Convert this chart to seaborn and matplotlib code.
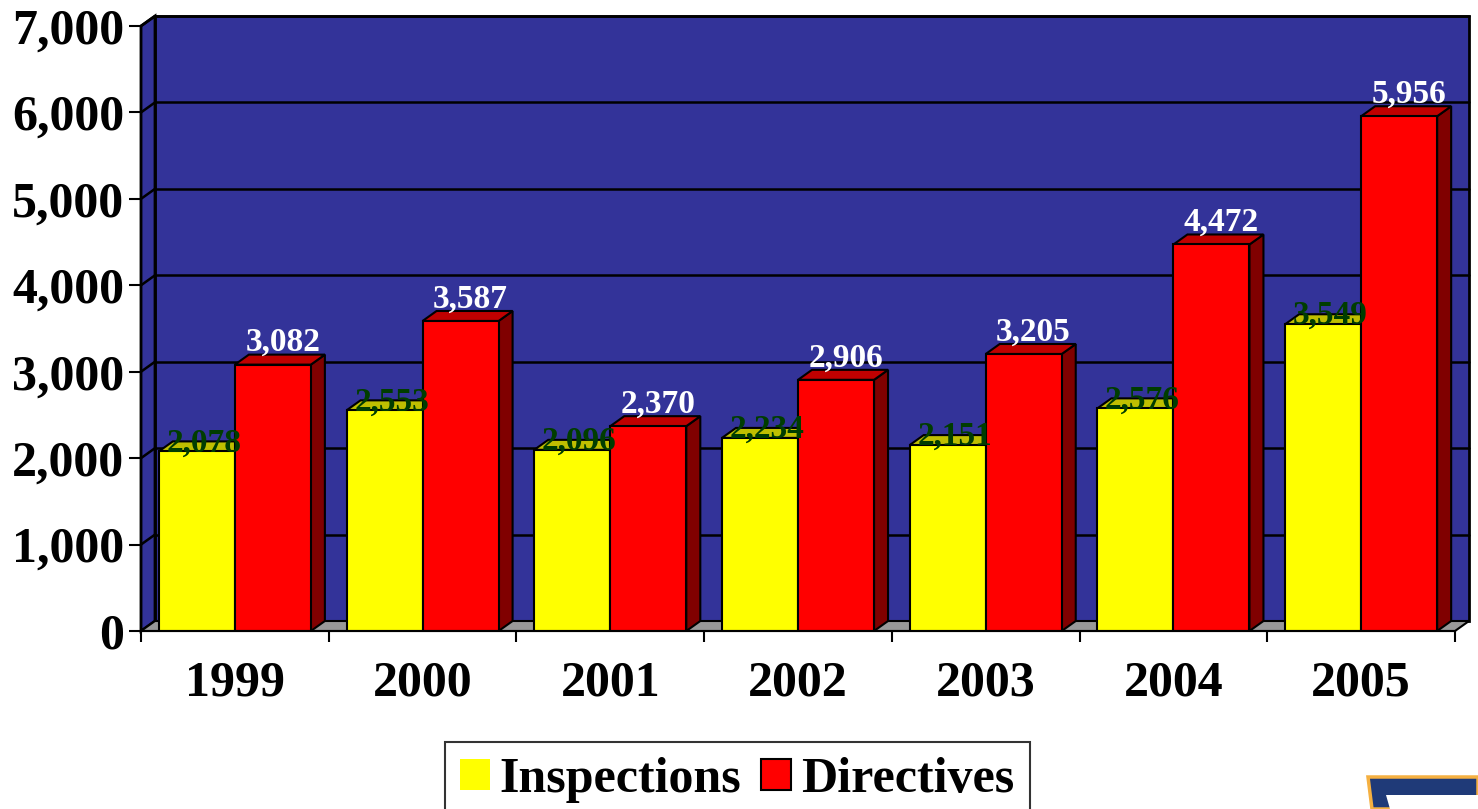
import matplotlib
matplotlib.use("Agg")
import matplotlib.pyplot as plt
import seaborn as sns
import pandas as pd
from matplotlib.patches import Polygon, Rectangle

years = ["1999", "2000", "2001", "2002", "2003", "2004", "2005"]
inspections = [2078, 2553, 2096, 2234, 2151, 2576, 3549]
directives = [3082, 3587, 2370, 2906, 3205, 4472, 5956]
series_names = ["Inspections", "Directives"]
y_ticks = [0, 1000, 2000, 3000, 4000, 5000, 6000, 7000]

df = pd.DataFrame({
    "year": years * 2,
    "value": inspections + directives,
    "series": [series_names[0]] * len(years) + [series_names[1]] * len(years),
})

sns.set_theme(style="white")
plt.rcParams["font.family"] = ["Liberation Serif", "DejaVu Serif"]
plt.rcParams["font.weight"] = "bold"
plt.rcParams["text.color"] = "black"

W, H = 1478, 809
fig = plt.figure(figsize=(W / 100, H / 100), dpi=100)
fig.patch.set_facecolor("white")
ax = fig.add_axes([141 / W, 1 - 631 / H, (1455 - 141) / W, (631 - 26) / H])
ax.set_facecolor("none")

front_colors = {"Inspections": "#FFFF00", "Directives": "#FF0000"}
top_colors = {"Inspections": "#BFBF00", "Directives": "#C00000"}
side_colors = {"Inspections": "#808000", "Directives": "#800000"}
label_colors = {"Inspections": "#003D00", "Directives": "#FFFFFF"}

sns.barplot(data=df, x="year", y="value", hue="series", hue_order=series_names,
            palette=front_colors, width=0.81, gap=0, edgecolor="black",
            linewidth=1.5, legend=False, ax=ax, zorder=3, saturation=1)

xmin, xmax = -0.5, len(years) - 0.5
ymax = 7000
ax.set_xlim(xmin, xmax)
ax.set_ylim(0, ymax)

# depth offsets in data units
dx = 14 / ((1455 - 141) / len(years))
dy = 10 / ((631 - 26) / ymax)

wall_blue = "#333399"
# back wall
ax.add_patch(Rectangle((xmin + dx, dy), xmax - xmin, ymax, facecolor=wall_blue,
                       edgecolor="black", lw=2, zorder=0.5, clip_on=False))
# left wall
ax.add_patch(Polygon([(xmin, 0), (xmin + dx, dy), (xmin + dx, ymax + dy), (xmin, ymax)],
                     closed=True, facecolor=wall_blue, edgecolor="black", lw=2,
                     zorder=0.5, clip_on=False))
# floor
ax.add_patch(Polygon([(xmin, 0), (xmax, 0), (xmax + dx, dy), (xmin + dx, dy)],
                     closed=True, facecolor="#999999", edgecolor="black", lw=1.5,
                     zorder=0.6, clip_on=False))
# gridlines
for v in y_ticks[1:]:
    ax.plot([xmin + dx, xmax + dx], [v + dy, v + dy], color="black", lw=1.8,
            zorder=0.7, clip_on=False)
    ax.plot([xmin, xmin + dx], [v, v + dy], color="black", lw=1.8,
            zorder=0.7, clip_on=False)

# 3D faces and labels
bars = [b for b in ax.patches if isinstance(b, Rectangle) and b.get_zorder() == 3
        and b.get_width() < 1 and b.get_height() > 0]
n = len(years)
for i, b in enumerate(bars):
    s = series_names[i // n]
    x0 = b.get_x()
    w = b.get_width()
    h = b.get_height()
    top = Polygon([(x0, h), (x0 + w, h), (x0 + w + dx, h + dy), (x0 + dx, h + dy)],
                  closed=True, facecolor=top_colors[s], edgecolor="black", lw=1.5, zorder=2)
    side = Polygon([(x0 + w, 0), (x0 + w + dx, dy), (x0 + w + dx, h + dy), (x0 + w, h)],
                   closed=True, facecolor=side_colors[s], edgecolor="black", lw=1.5, zorder=2)
    ax.add_patch(side)
    ax.add_patch(top)
    if s == "Inspections":
        ax.text(x0 + w / 2 + dx / 2, h, f"{int(h):,}", ha="center", va="baseline",
                fontsize=24, fontweight="bold", color=label_colors[s], zorder=4)
    else:
        ax.text(x0 + w / 2 + dx * 0.7, h + dy + 40, f"{int(h):,}", ha="center", va="baseline",
                fontsize=24, fontweight="bold", color=label_colors[s], zorder=4)

# axes styling
for sp in ["top", "right"]:
    ax.spines[sp].set_visible(False)
for sp in ["left", "bottom"]:
    ax.spines[sp].set_color("black")
    ax.spines[sp].set_linewidth(1.5)
    ax.spines[sp].set_zorder(5)

ax.set_yticks(y_ticks)
ax.set_yticklabels([f"{v:,}" for v in y_ticks])
ax.tick_params(axis="y", which="major", left=True, length=9, width=1.5, color="black",
               pad=3, labelsize=36, labelcolor="black")
ax.set_xticks(range(len(years)))
ax.set_xticklabels(years)
ax.set_xticks([xmin + k for k in range(len(years) + 1)], minor=True)
ax.tick_params(axis="x", which="major", bottom=False, length=0, pad=21, labelsize=36,
               labelcolor="black")
ax.tick_params(axis="x", which="minor", bottom=True, length=8, width=1.5, color="black")
for lab in ax.get_xticklabels() + ax.get_yticklabels():
    lab.set_fontweight("bold")
ax.set_xlabel("")
ax.set_ylabel("")
ax.grid(False)

# legend
handles = [Rectangle((0, 0), 1, 1, facecolor=front_colors["Inspections"], edgecolor="none"),
           Rectangle((0, 0), 1, 1, facecolor=front_colors["Directives"], edgecolor="black", lw=1.5)]
leg = fig.legend(handles, series_names, loc="upper center", ncol=2,
                 bbox_to_anchor=(737 / W, 1 - 742 / H), frameon=True, fancybox=False,
                 prop={"size": 36, "weight": "bold", "family": "Liberation Serif"},
                 handlelength=0.6, handleheight=0.6, handletextpad=0.2,
                 columnspacing=0.4, borderpad=0.3, borderaxespad=0, labelcolor="black")
leg.get_frame().set_edgecolor("black")
leg.get_frame().set_linewidth(1.5)

# small logo fragment at bottom right
fig.patches.append(Polygon([(1372 / W, 0), (1368 / W, 32 / H), (1.0, 32 / H), (1.0, 0)],
                           closed=True, transform=fig.transFigure, facecolor="#1F3A78",
                           edgecolor="#F5B041", lw=2.5, figure=fig))
fig.patches.append(Polygon([(1390 / W, 0), (1386 / W, 14 / H), (1.0, 14 / H), (1.0, 0)],
                           closed=True, transform=fig.transFigure, facecolor="white",
                           edgecolor="none", figure=fig))

fig.savefig("out.png", dpi=100)
